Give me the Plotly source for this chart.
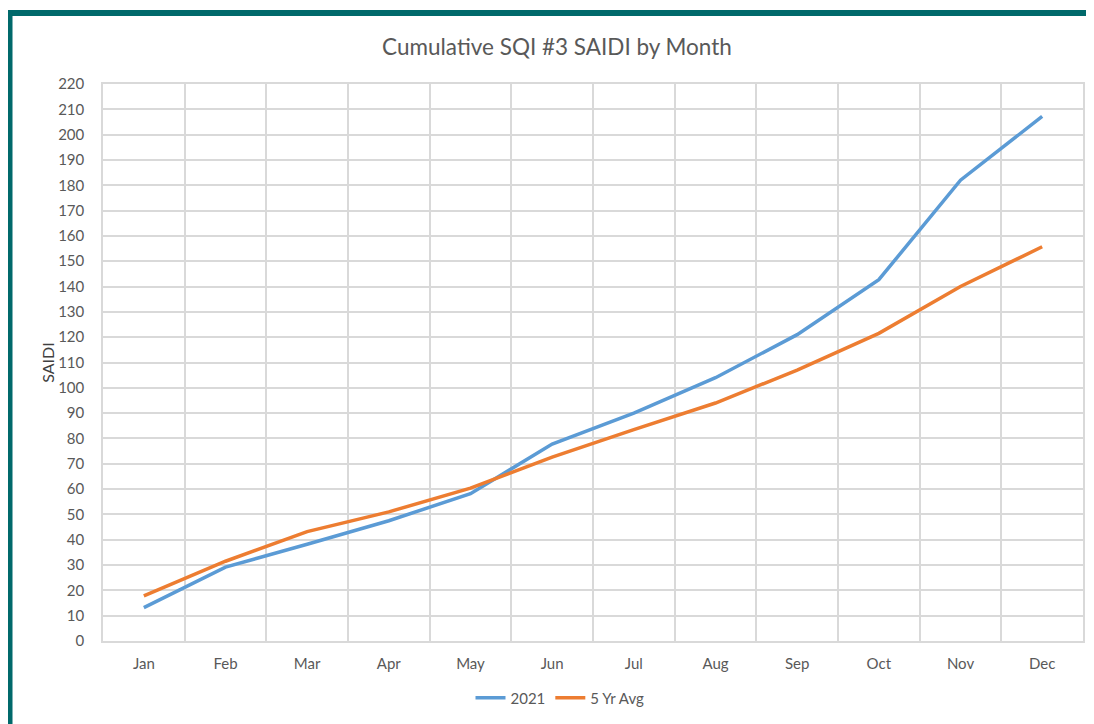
import plotly.graph_objects as go

months = ["Jan", "Feb", "Mar", "Apr", "May", "Jun", "Jul", "Aug", "Sep", "Oct", "Nov", "Dec"]
saidi_2021 = [13.2, 29.2, 38.2, 47.5, 58.2, 77.8, 90.0, 104.0, 121.0, 142.7, 182.0, 207.2]
saidi_5yr = [17.8, 31.5, 43.2, 51.0, 60.4, 72.6, 83.5, 94.0, 107.0, 121.5, 140.0, 155.7]
y_ticks = list(range(0, 230, 10))

W, H = 1094, 724
OFF = 8  # page body margin offset
L, R, T, B = 103 - OFF, 1083 - OFF, 84 - OFF, 641 - OFF

def px(x):
    return (x - OFF - L) / (R - L)

def py(y):
    return (B - (y - OFF)) / (B - T)

fig = go.Figure()
fig.add_trace(go.Scatter(x=months, y=saidi_2021, mode="lines", name="2021",
                         line=dict(color="#5B9BD5", width=3.5)))
fig.add_trace(go.Scatter(x=months, y=saidi_5yr, mode="lines", name="5 Yr Avg",
                         line=dict(color="#ED7D31", width=3.5)))

teal = "#00696B"
fig.add_shape(type="rect", xref="paper", yref="paper", x0=px(8), x1=px(1110), y0=py(16), y1=py(10),
              fillcolor=teal, line_width=0, layer="above")
fig.add_shape(type="rect", xref="paper", yref="paper", x0=px(8), x1=px(12.5), y0=py(740), y1=py(10),
              fillcolor=teal, line_width=0, layer="above")

fig.update_layout(
    width=W, height=H,
    margin=dict(l=L, r=W - R, t=T, b=H - B, autoexpand=False),
    paper_bgcolor="white", plot_bgcolor="white",
    font=dict(family="Lato, Open Sans, sans-serif", color="#595959", size=15),
    title=dict(text="Cumulative SQI #3 SAIDI by Month", x=(557 - OFF) / W, xanchor="center",
               y=1 - (47 - OFF) / H, yanchor="middle", font=dict(size=22.5, color="#595959")),
    showlegend=True,
    legend=dict(orientation="h", x=px(560), xanchor="center", y=py(698), yanchor="middle",
                font=dict(size=15, color="#595959"), tracegroupgap=0),
    xaxis=dict(type="category", tickson="boundaries", showgrid=True, gridcolor="#D9D9D9",
               gridwidth=1.5, showline=True, linecolor="#D9D9D9", linewidth=1.5, mirror=True,
               ticks="", ticklabelstandoff=8, range=[-0.5, 11.5], fixedrange=True),
    yaxis=dict(range=[0, 220], tickvals=y_ticks, showgrid=True, gridcolor="#D9D9D9",
               gridwidth=1.5, showline=True, linecolor="#D9D9D9", linewidth=1.5, mirror=True,
               zeroline=False, ticks="", ticklabelstandoff=14,
               title=dict(text="SAIDI", font=dict(size=16, color="#404040"), standoff=0)),
)

fig.write_html("out.html")
